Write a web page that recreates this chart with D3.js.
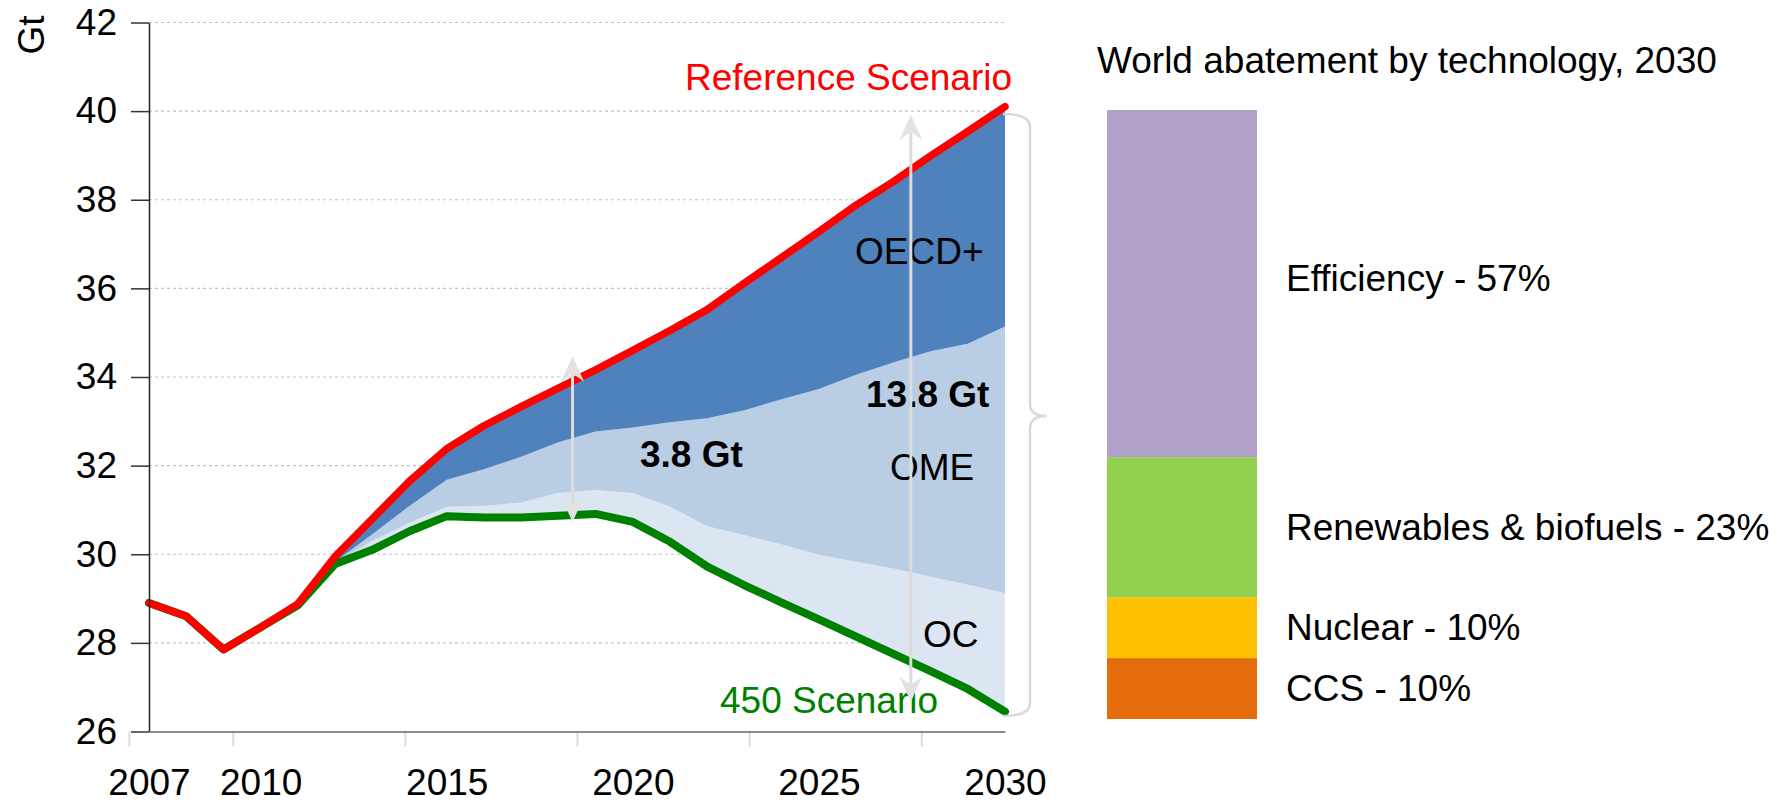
<!DOCTYPE html>
<html><head><meta charset="utf-8">
<script src="https://cdn.jsdelivr.net/npm/d3@7"></script>
<style>
html,body{margin:0;padding:0;background:#fff;}
svg text{font-family:"Liberation Sans", Arial, Helvetica, sans-serif;}
</style></head>
<body><svg id="chart" width="1782" height="802"></svg>
<script>
// ---------- data ----------
const years = [2007,2008,2009,2010,2011,2012,2013,2014,2015,2016,2017,2018,2019,2020,2021,2022,2023,2024,2025,2026,2027,2028,2029,2030];
const referenceScenario = [28.9,28.6,27.85,28.35,28.88,29.95,30.8,31.65,32.38,32.9,33.33,33.75,34.16,34.6,35.05,35.52,36.12,36.7,37.28,37.88,38.41,38.99,39.54,40.1];
const scenario450 = [28.9,28.6,27.85,28.35,28.85,29.78,30.1,30.52,30.86,30.83,30.83,30.87,30.91,30.73,30.28,29.72,29.3,28.91,28.53,28.14,27.75,27.36,26.96,26.45];
const abatementYears = [2012,2013,2014,2015,2016,2017,2018,2019,2020,2021,2022,2023,2024,2025,2026,2027,2028,2029,2030];
const abatementOC   = [0.02,0.20,0.19,0.21,0.26,0.34,0.51,0.54,0.65,0.79,0.91,1.13,1.31,1.46,1.69,1.93,2.13,2.35,2.67];
const abatementOME  = [0.03,0.15,0.38,0.61,0.83,1.03,1.15,1.32,1.48,1.91,2.44,2.82,3.28,3.74,4.22,4.65,5.09,5.44,6.02];
const abatementOECD = [0.12,0.35,0.56,0.70,0.98,1.13,1.22,1.39,1.74,2.07,2.45,2.87,3.20,3.55,3.83,4.08,4.41,4.79,4.96];
const yTickValues = [26,28,30,32,34,36,38,40,42];
const xTickLabels = [2007,2010,2015,2020,2025,2030];
const xMinorTicks = [2006.46,2009.25,2013.875,2018.5,2023.125,2027.75];
const techNames = ["CCS","Nuclear","Renewables & biofuels","Efficiency"];
const techShares = [10,10,23,57];

// ---------- styles ----------
const FS = 37;
const regionColors = {OC:"#dce6f2", OME:"#b9cde5", OECD:"#4f81bd"};
const techColors = ["#e46c0a","#ffc000","#92d050","#b1a0c7"];

const svg = d3.select("#chart");
const x = d3.scaleLinear().domain([2007,2030]).range([149,1005]);
const y = d3.scaleLinear().domain([26,42]).range([731.5,22.5]);

// gridlines
svg.append("g").selectAll("line").data(yTickValues.filter(v=>v>26)).join("line")
  .attr("x1",x(2007)).attr("x2",x(2030))
  .attr("y1",d=>y(d)).attr("y2",d=>y(d))
  .attr("stroke","#c4c4c4").attr("stroke-width",1.2).attr("stroke-dasharray","3,3");

// stacked abatement areas
const table = abatementYears.map((yr,i)=>{
  const idx = years.indexOf(yr);
  return {year:yr, base:scenario450[idx], OC:abatementOC[i], OME:abatementOME[i], OECD:abatementOECD[i]};
});
const stacked = d3.stack().keys(["base","OC","OME","OECD"])(table);
const area = d3.area().x(d=>x(d.data.year)).y0(d=>y(d[0])).y1(d=>y(d[1]));
svg.append("g").selectAll("path").data(stacked.slice(1)).join("path")
  .attr("d",area).attr("fill",d=>regionColors[d.key]);

// lines
const line = d3.line().x((d,i)=>x(years[i])).y(d=>y(d));
svg.append("path").attr("d",line(scenario450)).attr("fill","none")
  .attr("stroke","#008000").attr("stroke-width",8).attr("stroke-linejoin","round").attr("stroke-linecap","round");
svg.append("path").attr("d",line(referenceScenario)).attr("fill","none")
  .attr("stroke","#ff0000").attr("stroke-width",7.5).attr("stroke-linejoin","round").attr("stroke-linecap","round");

// axes
const yAxis = svg.append("g").attr("transform",`translate(${x(2007)},0)`)
  .call(d3.axisLeft(y).tickValues(yTickValues).tickSize(18).tickSizeOuter(0).tickPadding(14).tickFormat(d3.format("d")));
yAxis.select(".domain").attr("stroke","#222").attr("stroke-width",1.5);
yAxis.selectAll(".tick line").attr("stroke","#333").attr("stroke-width",1.5);
yAxis.selectAll("text").attr("font-size",FS).attr("fill","#000").attr("font-family","Liberation Sans, Arial, sans-serif");

const xMinor = svg.append("g").attr("transform",`translate(0,${y(26)})`)
  .call(d3.axisBottom(x).tickValues(xMinorTicks).tickSize(15).tickSizeOuter(0).tickFormat(""));
xMinor.select(".domain").remove();
xMinor.selectAll(".tick line").attr("stroke","#dcdcdc").attr("stroke-width",2);

const xAxis = svg.append("g").attr("transform",`translate(0,${y(26)})`)
  .call(d3.axisBottom(x).tickValues(xTickLabels).tickSize(0).tickSizeOuter(0).tickPadding(37.5).tickFormat(d3.format("d")));
xAxis.select(".domain").attr("stroke","#666").attr("stroke-width",1.5);
xAxis.selectAll("text").attr("font-size",FS).attr("fill","#000").attr("font-family","Liberation Sans, Arial, sans-serif");

// y-axis title
svg.append("text").attr("transform","translate(44,35) rotate(-90)")
  .attr("text-anchor","middle").attr("font-size",FS).text("Gt");

// annotation texts
const labels = [
  {t:"Reference Scenario", x:685, y:90, fill:"#ff0000", w:"normal"},
  {t:"OECD+", x:855, y:264, fill:"#000", w:"normal"},
  {t:"13.8 Gt", x:866, y:407, fill:"#000", w:"bold"},
  {t:"3.8 Gt", x:640, y:467, fill:"#000", w:"bold"},
  {t:"OME", x:890, y:480, fill:"#000", w:"normal"},
  {t:"OC", x:923, y:647, fill:"#000", w:"normal"},
  {t:"450 Scenario", x:720, y:713, fill:"#008000", w:"normal"}
];
svg.append("g").selectAll("text").data(labels).join("text")
  .attr("x",d=>d.x).attr("y",d=>d.y).attr("fill",d=>d.fill).attr("font-weight",d=>d.w)
  .attr("font-size",FS).text(d=>d.t);

// double-headed arrows
function arrow(yr, vTop, vBot){
  const ax = x(yr), t = y(vTop), b = y(vBot);
  const g = svg.append("g");
  g.append("line").attr("x1",ax).attr("x2",ax).attr("y1",t+10).attr("y2",b-10)
    .attr("stroke","#dcdcdc").attr("stroke-width",3);
  const hw = 11.5, hl = 25, notch = 17;
  g.append("path").attr("d",`M${ax},${t} L${ax+hw},${t+hl} L${ax},${t+notch} L${ax-hw},${t+hl} Z`).attr("fill","#e2e2e2");
  g.append("path").attr("d",`M${ax},${b} L${ax+hw},${b-hl} L${ax},${b-notch} L${ax-hw},${b-hl} Z`).attr("fill","#e2e2e2");
}
arrow(2018.38, 34.46, 30.73);
arrow(2027.47, 39.91, 26.67);

// brace
svg.append("path")
  .attr("d","M1003,114 Q1030,114 1030,127 L1030,404 Q1030,416 1047,416 Q1030,416 1030,428 L1030,703 Q1030,716 1003,716")
  .attr("fill","none").attr("stroke","#d9d9d9").attr("stroke-width",2.5);

// ---------- right panel ----------
svg.append("text").attr("x",1097).attr("y",73).attr("font-size",FS).text("World abatement by technology, 2030");
const yBar = d3.scaleLinear().domain([0,100]).range([719,110]);
const xBar = d3.scaleBand().domain(["2030"]).range([1107,1257]);
const cum = d3.cumsum(techShares);
const segs = techNames.map((n,i)=>({name:n, share:techShares[i], lo:cum[i]-techShares[i], hi:cum[i], color:techColors[i]}));
svg.append("g").selectAll("rect").data(segs).join("rect")
  .attr("x",xBar("2030")).attr("width",xBar.bandwidth())
  .attr("y",d=>yBar(d.hi)).attr("height",d=>yBar(d.lo)-yBar(d.hi))
  .attr("fill",d=>d.color);
const labelOffsets = [0,0,0,-5];
svg.append("g").selectAll("text").data(segs).join("text")
  .attr("x",1286).attr("y",(d,i)=>(yBar(d.lo)+yBar(d.hi))/2+labelOffsets[i])
  .attr("dominant-baseline","central").attr("font-size",FS)
  .text(d=>`${d.name} - ${d.share}%`);
</script>
</body></html>
